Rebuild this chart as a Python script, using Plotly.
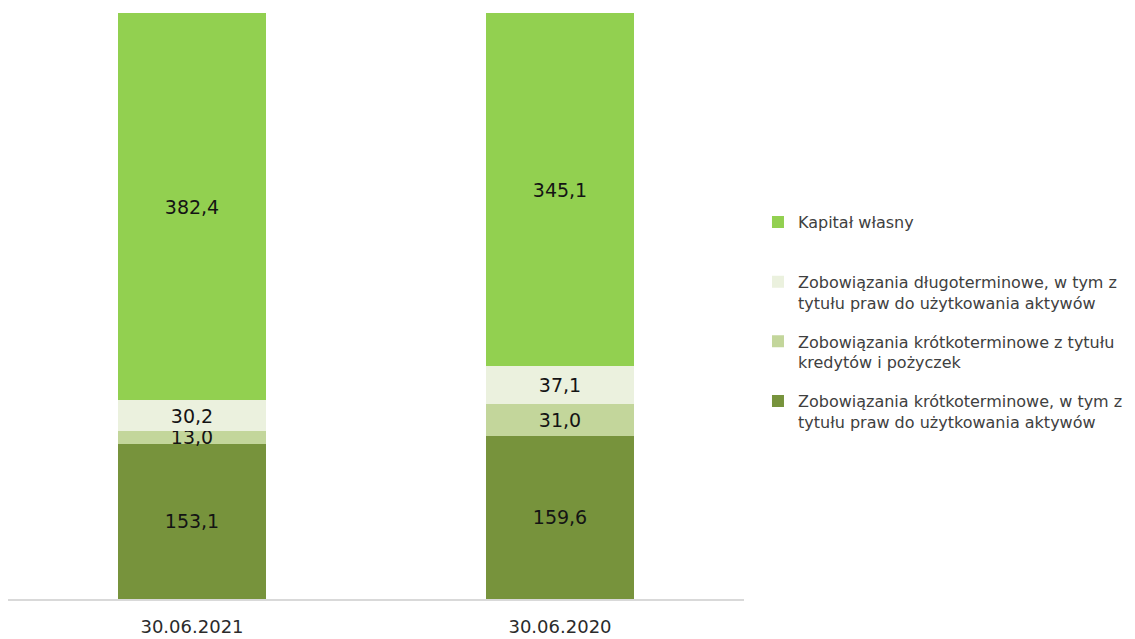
import plotly.graph_objects as go

# --- dane ---
dates = ['30.06.2021', '30.06.2020']

series_names = [
    'Zobowiązania krótkoterminowe, w tym z<br>tytułu praw do użytkowania aktywów',
    'Zobowiązania krótkoterminowe z tytułu<br>kredytów i pożyczek',
    'Zobowiązania długoterminowe, w tym z<br>tytułu praw do użytkowania aktywów',
    'Kapitał własny<br> ',
]
st_liabilities = [153.1, 159.6]
st_loans = [13.0, 31.0]
lt_liabilities = [30.2, 37.1]
equity = [382.4, 345.1]

colors = ['#77933C', '#C3D69B', '#EBF1DE', '#92D050']


def fmt(v):
    return f'{v:.1f}'.replace('.', ',')


fig = go.Figure()
for i, (name, vals) in enumerate(zip(series_names, [st_liabilities, st_loans, lt_liabilities, equity])):
    fig.add_trace(go.Bar(
        x=dates, y=vals, name=name,
        marker=dict(color=colors[i], line=dict(width=0)),
        text=[fmt(v) for v in vals],
        textposition='inside', insidetextanchor='middle',
        constraintext='none',
        textfont=dict(family='DejaVu Sans', size=19, color='#141414'),
        legendgroup=f'g{i}',
        legendrank=4 - i,
        hoverinfo='skip',
    ))

# strona ma 8px marginesu body, stąd przesunięte marginesy
fig.update_layout(
    width=1135, height=639,
    barmode='stack', barnorm='percent', bargap=0.598,
    paper_bgcolor='white', plot_bgcolor='white',
    margin=dict(l=0, r=399, t=5, b=48),
    uniformtext=dict(minsize=19, mode='show'),
    font=dict(family='DejaVu Sans', color='#333333'),
    legend=dict(
        x=1.019, xanchor='left', y=0.672, yanchor='top',
        traceorder='grouped', tracegroupgap=15,
        valign='top',
        font=dict(family='DejaVu Sans', size=16, color='#404040'),
        bgcolor='rgba(0,0,0,0)',
    ),
    showlegend=True,
)
fig.update_xaxes(
    showline=True, linecolor='#d9d9d9', linewidth=2,
    ticks='outside', ticklen=10, tickcolor='rgba(0,0,0,0)',
    tickfont=dict(family='DejaVu Sans', size=18, color='#2b2b2b'),
    showgrid=False,
)
fig.update_yaxes(range=[0, 100], visible=False, showgrid=False)

fig.write_html('out.html')
